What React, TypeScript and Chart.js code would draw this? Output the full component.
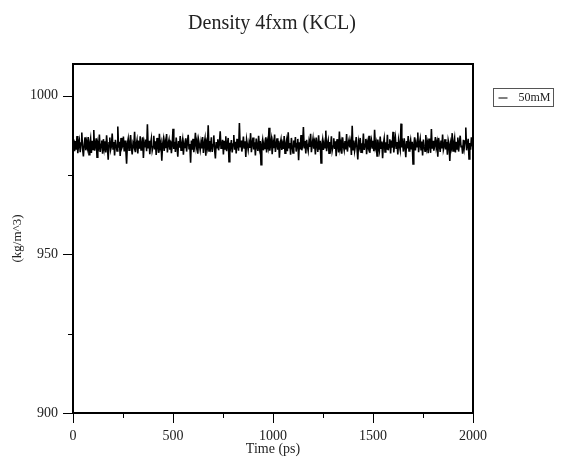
import React, { useEffect, useRef } from "react";
import { Chart, registerables } from "chart.js";

Chart.register(...registerables);

const chartTitle = "Density 4fxm (KCL)";
const xAxisTitle = "Time (ps)";
const yAxisTitle = "(kg/m^3)";
const seriesLabel = "50mM";
const timeStepPs = 4;
const xTickValues = [0, 250, 500, 750, 1000, 1250, 1500, 1750, 2000];
const xLabeledEvery = 500;
const yTickValues = [900, 925, 950, 975, 1000];
const yLabeledEvery = 50;
const xMin = 0;
const xMax = 2000;
const yMin = 900;
const yMax = 1010;

const density50mM = [
  984.1, 986.2, 982.5, 985.7, 983.0, 987.3, 981.9, 984.8, 986.0, 982.2, 985.1, 988.4, 983.3, 980.9, 984.6, 986.9, 982.8, 985.3, 983.7, 987.0,
  981.4, 984.9, 986.5, 982.0, 985.8, 983.1, 989.2, 982.7, 984.3, 986.6, 980.6, 985.0, 983.9, 987.8, 982.3, 984.7, 985.9, 981.7, 986.3, 983.4,
  985.6, 982.1, 987.5, 983.8, 979.8, 985.2, 986.8, 982.9, 984.0, 988.1, 983.2, 985.4, 981.2, 986.1, 984.4, 982.6, 990.3, 983.6, 985.5, 981.0,
  986.7, 983.5, 984.2, 987.1, 982.4, 985.9, 983.0, 978.6, 984.9, 986.4, 982.8, 985.2, 987.6, 983.7, 981.5, 985.0, 984.1, 988.6, 982.2, 984.6,
  986.0, 981.8, 985.7, 983.3, 987.2, 982.9, 984.5, 986.9, 980.4, 985.3, 983.9, 986.2, 982.5, 991.0, 983.4, 985.8, 981.6, 984.8, 986.5, 982.7,
  984.0, 987.4, 983.1, 985.6, 981.3, 986.7, 984.2, 982.0, 988.0, 983.8, 985.1, 979.5, 984.7, 986.3, 982.6, 985.4, 983.5, 987.9, 982.1, 984.9,
  986.1, 983.0, 985.8, 981.9, 984.4, 989.6, 983.2, 985.5, 982.3, 986.8, 984.1, 980.8, 985.7, 983.6, 987.3, 982.8, 984.6, 986.2, 981.4, 985.0,
  983.7, 986.6, 982.4, 985.2, 987.7, 983.3, 984.8, 978.9, 985.9, 983.0, 986.4, 982.2, 984.3, 988.3, 983.9, 985.6, 981.7, 986.0, 984.5, 982.9,
  985.3, 983.4, 987.0, 982.0, 984.9, 986.5, 981.1, 985.1, 983.8, 990.7, 982.6, 985.7, 984.0, 986.9, 982.3, 984.6, 987.5, 983.1, 980.2, 985.4,
  983.6, 986.3, 982.8, 985.0, 988.8, 983.5, 984.2, 986.1, 981.5, 985.8, 983.2, 987.2, 982.5, 984.7, 986.7, 979.2, 985.2, 983.9, 986.0, 982.1,
  984.8, 987.6, 983.0, 985.5, 981.8, 986.4, 984.3, 982.7, 991.4, 983.7, 985.9, 982.4, 984.1, 987.1, 983.3, 985.6, 980.7, 986.2, 984.6, 982.9,
  985.1, 983.6, 988.2, 982.2, 984.9, 986.8, 983.1, 985.3, 981.2, 986.5, 984.0, 982.6, 987.4, 983.8, 985.7, 978.3, 984.5, 986.1, 982.8, 985.0,
  983.4, 986.9, 982.1, 985.4, 983.9, 989.9, 982.7, 984.7, 986.3, 981.6, 985.2, 983.5, 987.8, 982.3, 984.4, 986.6, 983.0, 985.8, 980.5, 984.8,
  986.2, 982.9, 985.6, 983.2, 987.3, 981.9, 984.6, 986.0, 982.5, 988.5, 983.6, 985.1, 981.4, 986.7, 984.2, 982.0, 985.9, 983.7, 987.0, 982.4,
  984.9, 986.4, 979.7, 985.3, 983.1, 987.6, 982.8, 984.3, 990.1, 983.4, 985.7, 981.8, 986.1, 984.0, 982.6, 985.5, 983.9, 988.0, 982.2, 984.7,
  986.5, 983.3, 985.0, 981.5, 986.8, 984.4, 982.3, 987.5, 983.0, 985.8, 978.8, 984.6, 986.2, 982.9, 985.2, 983.6, 989.0, 982.5, 984.8, 986.0,
  981.9, 985.4, 983.8, 987.2, 982.7, 984.1, 986.6, 983.2, 985.6, 980.9, 986.3, 984.5, 982.1, 988.7, 983.5, 985.1, 981.7, 986.9, 984.2, 982.8,
  985.7, 983.1, 987.9, 982.4, 984.9, 986.1, 983.7, 985.3, 981.3, 990.5, 983.0, 985.9, 982.6, 984.3, 987.0, 983.4, 979.9, 985.5, 984.0, 986.7,
  982.2, 985.0, 983.6, 988.1, 982.9, 984.7, 986.4, 981.6, 985.2, 983.9, 987.4, 982.0, 984.6, 986.0, 983.3, 985.8, 982.5, 989.3, 983.8, 985.1,
  981.0, 986.2, 984.1, 982.7, 987.1, 983.5, 985.6, 980.3, 984.8, 986.5, 982.3, 985.3, 983.0, 987.7, 982.8, 984.5, 986.3, 981.8, 985.9, 983.6,
  988.6, 982.1, 984.9, 986.8, 983.2, 985.4, 981.5, 986.0, 984.3, 982.9, 991.2, 983.7, 985.0, 982.4, 986.6, 984.0, 980.6, 985.7, 983.4, 987.3,
  982.6, 984.7, 986.1, 983.1, 985.5, 978.5, 984.4, 986.9, 982.8, 985.2, 983.9, 988.4, 982.2, 984.8, 986.4, 983.0, 985.6, 981.2, 986.2, 984.1,
  982.5, 987.6, 983.6, 985.1, 981.9, 986.5, 984.6, 982.0, 989.5, 983.3, 985.8, 982.7, 984.2, 987.0, 983.8, 985.3, 980.8, 986.7, 984.5, 982.3,
  985.9, 983.4, 987.8, 982.9, 984.0, 986.3, 983.1, 985.4, 981.4, 986.0, 984.7, 979.4, 985.0, 983.7, 988.2, 982.6, 984.9, 986.6, 982.1, 985.5,
  983.2, 986.8, 982.4, 985.2, 987.4, 983.9, 984.3, 981.7, 986.1, 983.5, 985.7, 990.0, 982.8, 984.6, 986.4, 980.1, 985.1, 983.0, 986.9, 984.4,
  983.8,
];

const serif = "'Liberation Serif', 'Times New Roman', serif";

const gracePlot = {
  id: "gracePlot",
  afterDraw(chart: any) {
    const { ctx, chartArea: a, scales } = chart;
    ctx.save();
    // title centred over the plot frame
    ctx.fillStyle = "#222";
    ctx.font = `20px ${serif}`;
    ctx.textAlign = "center";
    ctx.textBaseline = "middle";
    ctx.fillText(chartTitle, (a.left + a.right) / 2 - 1, 24);

    ctx.strokeStyle = "#000";
    ctx.lineWidth = 1;
    yTickValues.forEach((v) => {
      const y = Math.round(scales.y.getPixelForValue(v)) + 0.5;
      const len = v % yLabeledEvery === 0 ? 10 : 5;
      ctx.beginPath();
      ctx.moveTo(a.left - len, y);
      ctx.lineTo(a.left, y);
      ctx.stroke();
    });
    xTickValues.forEach((v) => {
      const x = Math.round(scales.x.getPixelForValue(v)) + 0.5;
      const len = v % xLabeledEvery === 0 ? 10 : 5;
      ctx.beginPath();
      ctx.moveTo(x, a.bottom);
      ctx.lineTo(x, a.bottom + len);
      ctx.stroke();
    });
    ctx.lineWidth = 2;
    ctx.strokeRect(a.left, a.top, a.right - a.left, a.bottom - a.top);

    // legend
    const bx = a.right + 20.5;
    const by = a.top + 24.5;
    ctx.lineWidth = 1;
    ctx.strokeStyle = "#555";
    ctx.strokeRect(bx, by, 60, 18);
    ctx.strokeStyle = "#000";
    ctx.beginPath();
    ctx.moveTo(bx + 5, by + 9.5);
    ctx.lineTo(bx + 14, by + 9.5);
    ctx.stroke();
    ctx.fillStyle = "#222";
    ctx.font = `12px ${serif}`;
    ctx.textBaseline = "middle";
    ctx.textAlign = "left";
    ctx.fillText(seriesLabel, bx + 25, by + 9.5);
    ctx.restore();
  },
};

export default function App() {
  const ref = useRef<HTMLCanvasElement | null>(null);
  useEffect(() => {
    if (!ref.current) return;
    const points = density50mM.map((y, i) => ({ x: i * timeStepPs, y }));
    const chart = new Chart(ref.current, {
      type: "line",
      data: {
        datasets: [
          {
            label: seriesLabel,
            data: points,
            borderColor: "#000",
            borderWidth: 1.6,
            pointRadius: 0,
            tension: 0,
            fill: false,
          },
        ],
      },
      options: {
        responsive: false,
        animation: false,
        events: [],
        layout: { padding: { left: 0, right: 89, top: 64, bottom: 0 } },
        plugins: {
          legend: { display: false },
          tooltip: { enabled: false },
          title: { display: false },
        },
        scales: {
          x: {
            type: "linear",
            min: xMin,
            max: xMax,
            afterBuildTicks: (s: any) => {
              s.ticks = xTickValues.map((v) => ({ value: v }));
            },
            afterFit: (s: any) => {
              s.height = 47;
            },
            grid: { display: false },
            border: { display: false },
            ticks: {
              autoSkip: false,
              maxRotation: 0,
              padding: 7,
              color: "#222",
              font: { family: serif, size: 14 },
              callback: (v: any) => (Number(v) % xLabeledEvery === 0 ? String(v) : ""),
            },
            title: {
              display: true,
              text: xAxisTitle,
              color: "#222",
              font: { family: serif, size: 14, lineHeight: 1.2 },
              padding: { top: 0, bottom: 2 },
            },
          },
          y: {
            type: "linear",
            min: yMin,
            max: yMax,
            afterBuildTicks: (s: any) => {
              s.ticks = yTickValues.map((v) => ({ value: v }));
            },
            afterFit: (s: any) => {
              s.width = 73;
            },
            grid: { display: false },
            border: { display: false },
            ticks: {
              autoSkip: false,
              padding: 7,
              color: "#222",
              font: { family: serif, size: 14 },
              callback: (v: any) => (Number(v) % yLabeledEvery === 0 ? String(v) : ""),
            },
            title: {
              display: true,
              text: yAxisTitle,
              color: "#222",
              font: { family: serif, size: 13, lineHeight: 1.2 },
              padding: { top: 10, bottom: 0 },
            },
          },
        },
      },
      plugins: [gracePlot],
    });
    return () => chart.destroy();
  }, []);
  return (
    <div style={{ position: "absolute", left: 0, top: 0, width: 562, height: 460, background: "#fff" }}>
      <canvas ref={ref} width={562} height={460} />
    </div>
  );
}
